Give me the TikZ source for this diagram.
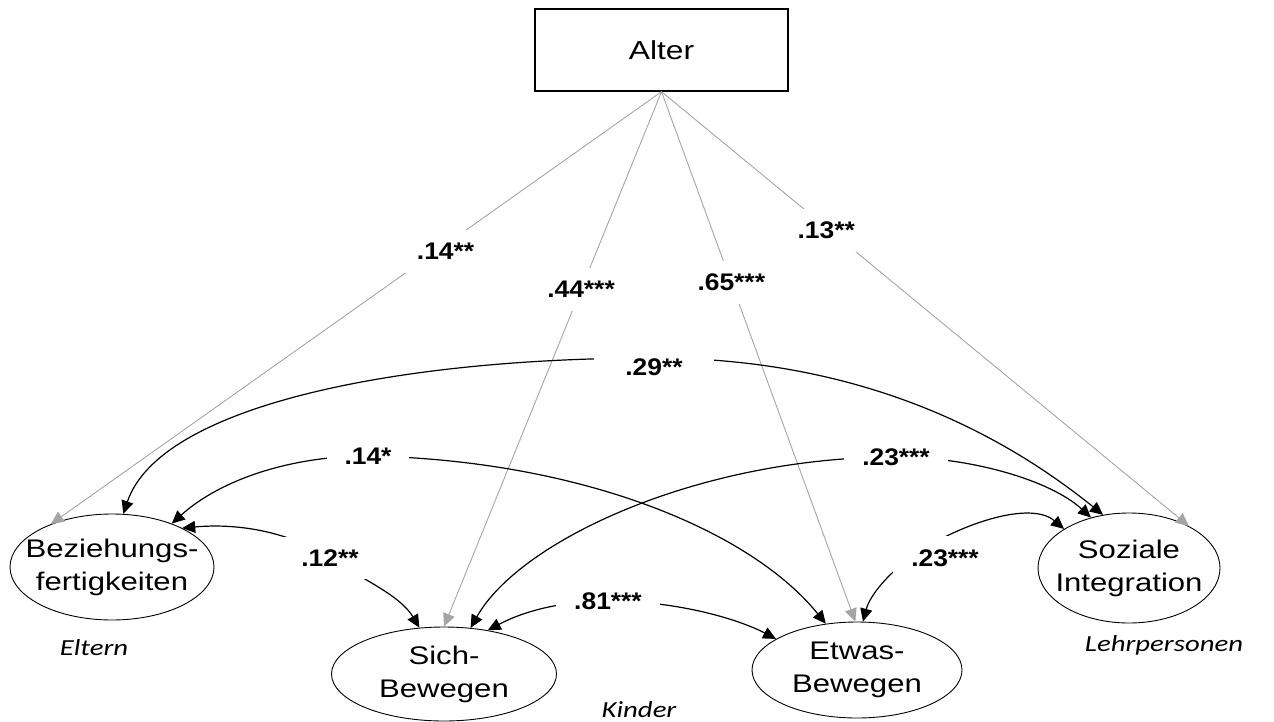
\documentclass[tikz,border=0pt]{standalone}
\usepackage{fontspec}
\setmainfont{Liberation Sans}
\newfontfamily\nodefont{Liberation Sans}[FakeStretch=1.22]
\newfontfamily\labfont{Liberation Sans}[FakeStretch=1.1]
\newfontfamily\grpfont{Carlito}[FakeStretch=1.25]
\usetikzlibrary{arrows.meta,shapes.geometric}
\definecolor{linegray}{RGB}{165,165,165}
\begin{document}
\begin{tikzpicture}[x=1pt,y=-1pt,
  every node/.style={inner sep=0pt},
  vtext/.style={font=\nodefont\fontsize{25.5}{33}\selectfont, align=center},
  var/.style={ellipse, draw, line width=0.9pt, inner sep=0pt},
  obs/.style={rectangle, draw, line width=1.4pt, minimum width=253pt, minimum height=82pt, font=\nodefont\fontsize{26}{30}\selectfont},
  grp/.style={font=\grpfont\itshape\fontsize{23}{26}\selectfont},
  lab/.style={fill=white, font=\labfont\bfseries\fontsize{24}{28}\selectfont, inner xsep=18pt, inner ysep=13pt},
  reg/.style={draw=linegray, line width=0.9pt, -{Triangle[length=13pt,width=12pt]}},
  cov/.style={draw=black, line width=1.2pt, {Triangle[length=13pt,width=12pt]}-{Triangle[length=13pt,width=12pt]}},
]
\useasboundingbox (0,0) rectangle (1274,722);

% nodes
\node[obs] (alt) at (661.5,50) {Alter};
\node[var, minimum width=204pt, minimum height=106pt, label={[vtext]center:Beziehungs-\\fertigkeiten}] (bez) at (112,567) {};
\node[var, minimum width=225pt, minimum height=94pt, label={[vtext]center:Sich-\\Bewegen}] (sich) at (444,674) {};
\node[var, minimum width=210pt, minimum height=96pt, label={[vtext]center:Etwas-\\Bewegen}] (etw) at (857,670) {};
\node[var, minimum width=182pt, minimum height=110pt, label={[vtext]center:Soziale\\Integration}] (soz) at (1129,568) {};

\node[grp] (eltern) at (94,648) {Eltern};
\node[grp] (kinder) at (639,710) {Kinder};
\node[grp] (lehr) at (1164,645) {Lehrpersonen};

% regressions on age
\draw[reg] (alt.south) -- node[lab, pos=0.37, xshift=10pt]{.14**} (bez.145);
\draw[reg] (alt.south) -- node[lab, pos=0.37]{.44***} (sich.90);
\draw[reg] (alt.south) -- node[lab, pos=0.36]{.65***} (etw.92);
\draw[reg] (alt.south) -- node[lab, pos=0.32, xshift=-4pt]{.13**} (soz.35);

% correlations
\draw[cov] (bez.78) .. controls (160,405) and (400,358) .. (654,358)
  node[lab, inner xsep=31pt, yshift=-9pt]{.29**}
  .. controls (870,358) and (1010,440) .. (soz.116);
\draw[cov] (bez.36) .. controls (220,480) and (290,456) .. (368,456)
  node[lab]{.14*}
  .. controls (580,460) and (750,530) .. (etw.124);
\draw[cov] (sich.60) .. controls (520,540) and (700,457) .. (896,457)
  node[lab]{.23***}
  .. controls (970,457) and (1050,480) .. (soz.127);
\draw[cov] (bez.29) .. controls (250,522) and (300,538) .. (330,558)
  node[lab]{.12**}
  .. controls (360,578) and (400,595) .. (sich.118);
\draw[cov] (sich.45) .. controls (530,608) and (570,601) .. (608,601)
  node[lab]{.81***}
  .. controls (680,601) and (740,620) .. (etw.159);
\draw[cov] (etw.83) .. controls (870,595) and (890,570) .. (922,550)
  node[lab, xshift=23pt, yshift=-8pt]{.23***}
  .. controls (960,525) and (1030,500) .. (soz.149);
\end{tikzpicture}
\end{document}
